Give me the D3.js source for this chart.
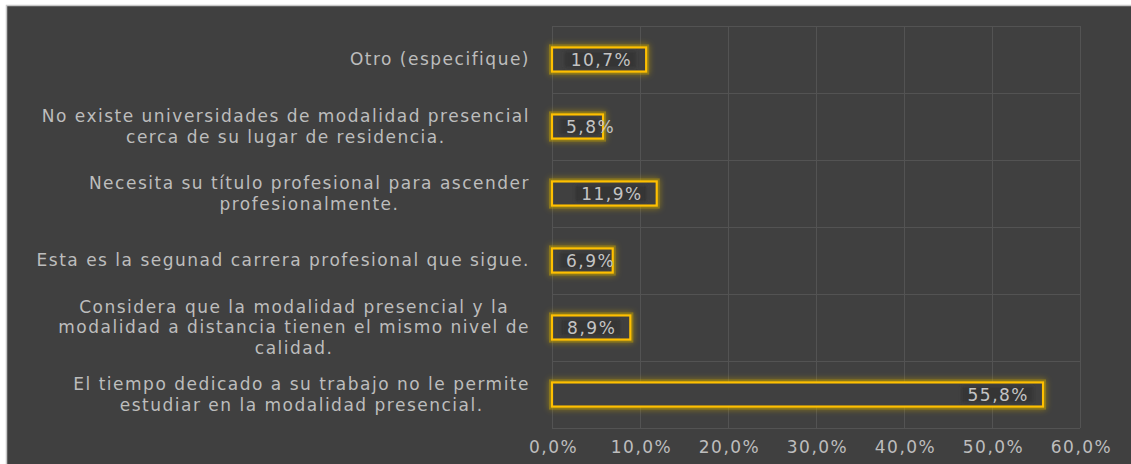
<!DOCTYPE html>
<html>
<head>
<meta charset="utf-8">
<script src="https://cdn.jsdelivr.net/npm/d3@7"></script>
<style>
  html, body { margin: 0; padding: 0; background: #ffffff; }
  svg { display: block; }
</style>
</head>
<body>
<div id="chart"></div>
<script>
// data, top to bottom as in the picture
var categories = [
  'Otro (especifique)',
  'No existe universidades de modalidad presencial\ncerca de su lugar de residencia.',
  'Necesita su título profesional para ascender\nprofesionalmente.',
  'Esta es la segunad carrera profesional que sigue.',
  'Considera que la modalidad presencial y la\nmodalidad a distancia tienen el mismo nivel de\ncalidad.',
  'El tiempo dedicado a su trabajo no le permite\nestudiar en la modalidad presencial.'
];
var values = [10.7, 5.8, 11.9, 6.9, 8.9, 55.8];
var ticks = [0, 10, 20, 30, 40, 50, 60];

var width = 1131, height = 464;
var font = '"DejaVu Sans", Verdana, sans-serif';
var fmt = v => d3.format('.1f')(v).replace('.', ',') + '%';

var svg = d3.select('#chart').append('svg')
  .attr('width', width)
  .attr('height', height)
  .style('font-family', font)
  .style('letter-spacing', '1.5px');

var defs = svg.append('defs');
var glow = defs.append('filter').attr('id', 'glow')
  .attr('x', '-20%').attr('y', '-50%').attr('width', '140%').attr('height', '200%');
glow.append('feGaussianBlur').attr('in', 'SourceGraphic').attr('stdDeviation', 3).attr('result', 'b');
var m = glow.append('feMerge');
m.append('feMergeNode').attr('in', 'b');
m.append('feMergeNode').attr('in', 'SourceGraphic');

var soft = defs.append('filter').attr('id', 'soft');
soft.append('feGaussianBlur').attr('stdDeviation', 1.5);

// chart frame
svg.append('rect')
  .attr('x', 6.5).attr('y', 5.5)
  .attr('width', width).attr('height', height)
  .attr('fill', '#404040')
  .attr('stroke', '#c8c8c8').attr('stroke-width', 1.5);

var x = d3.scaleLinear().domain([0, 60]).range([552, 1080]);
var y = d3.scaleBand().domain(d3.range(categories.length)).range([26, 428]).paddingInner(0.64).paddingOuter(0.32);

// gridlines
var grid = svg.append('g').attr('stroke', '#535353').attr('stroke-width', 1);
grid.selectAll('line.v').data(ticks).enter().append('line')
  .attr('x1', d => x(d) + 0.5).attr('x2', d => x(d) + 0.5)
  .attr('y1', 26).attr('y2', 428);
var step = (428 - 26) / categories.length;
grid.selectAll('line.h').data(d3.range(categories.length + 1)).enter().append('line')
  .attr('x1', x(0)).attr('x2', x(60))
  .attr('y1', d => 26 + d * step + 0.5).attr('y2', d => 26 + d * step + 0.5);

// x axis
var xAxis = svg.append('g')
  .attr('transform', 'translate(0,428)')
  .call(d3.axisBottom(x).tickValues(ticks).tickFormat(fmt).tickSize(0).tickPadding(13));
xAxis.select('.domain').remove();
xAxis.selectAll('text')
  .attr('fill', '#bdbdbd')
  .attr('dx', '1px')
  .style('font-size', '17px')
  .style('font-family', font);

// category labels: block right-aligned to the plot, lines centred in the block
var lh = 20.5;
var cat = svg.append('g').attr('text-anchor', 'middle').attr('fill', '#bdbdbd').style('font-size', '17px');
cat.selectAll('text').data(categories).enter().append('text')
  .each(function(d, i) {
    var lines = d.split('\n');
    var t = d3.select(this);
    lines.forEach((l, k) => {
      t.append('tspan')
        .attr('x', 0)
        .attr('y', (k - (lines.length - 1) / 2) * lh)
        .attr('dy', '0.35em')
        .text(l);
    });
    var w = d3.max(t.selectAll('tspan').nodes(), n => n.getComputedTextLength());
    t.attr('transform', `translate(${530 - w / 2},${y(i) + y.bandwidth() / 2})`);
  });

// bars
var bars = svg.append('g');
bars.selectAll('rect.glow').data(values).enter().append('rect')
  .attr('x', x(0)).attr('y', (d, i) => y(i))
  .attr('width', d => x(d) - x(0)).attr('height', y.bandwidth())
  .attr('fill', 'none').attr('stroke', '#c8a400').attr('stroke-width', 6)
  .attr('opacity', 0.55)
  .attr('filter', 'url(#glow)');
bars.selectAll('rect.bar').data(values).enter().append('rect')
  .attr('x', x(0)).attr('y', (d, i) => y(i))
  .attr('width', d => x(d) - x(0)).attr('height', y.bandwidth())
  .attr('fill', '#404040').attr('stroke', '#ffc000').attr('stroke-width', 2.2);

// value labels (inside end)
var labels = svg.append('g').style('font-size', '17px');
labels.selectAll('g').data(values).enter().append('g')
  .each(function(d, i) {
    var g = d3.select(this);
    var bg = g.append('rect');
    var t = g.append('text')
      .attr('fill', '#c4c4c4')
      .attr('text-anchor', 'end')
      .attr('y', y(i) + y.bandwidth() / 2)
      .attr('dy', '0.36em')
      .text(fmt(d));
    var w = t.node().getComputedTextLength();
    var xe = Math.max(x(d) - 14, x(0) + 14 + w);
    t.attr('x', xe);
    var b0 = Math.max(x(0) + 6, xe - w - 6);
    var b1 = Math.min(xe + 4, x(d) - 4);
    bg.attr('x', b0).attr('y', y(i) + 4)
      .attr('width', b1 - b0).attr('height', y.bandwidth() - 8)
      .attr('fill', '#343434').attr('filter', 'url(#soft)');
  });
</script>
</body>
</html>
